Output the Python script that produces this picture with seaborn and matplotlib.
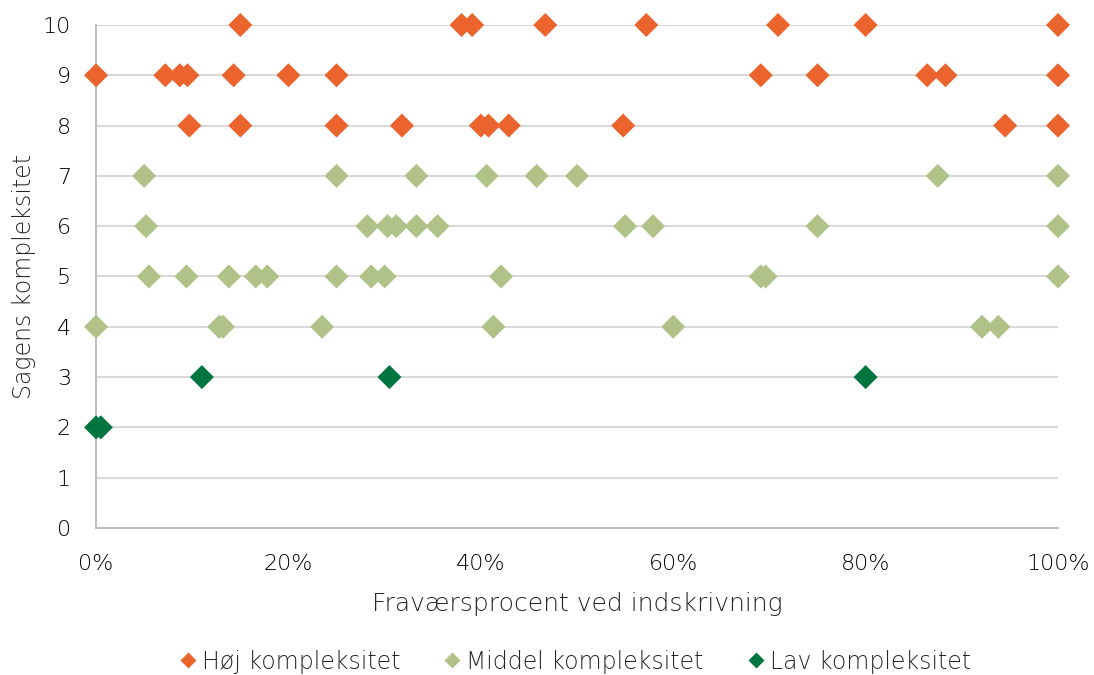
import matplotlib
matplotlib.use("Agg")
import matplotlib.pyplot as plt
import seaborn as sns
import pandas as pd
from matplotlib.lines import Line2D

# ---- data (fraction of absence, complexity) ----
hoj_x = [0.15, 0.380, 0.391, 0.467, 0.572, 0.709, 0.800, 1.00,
         0.0, 0.072, 0.087, 0.095, 0.143, 0.200, 0.250, 0.691, 0.750, 0.864, 0.883, 1.00,
         0.097, 0.150, 0.250, 0.318, 0.400, 0.408, 0.429, 0.548, 0.945, 1.00]
hoj_y = [10, 10, 10, 10, 10, 10, 10, 10,
         9, 9, 9, 9, 9, 9, 9, 9, 9, 9, 9, 9,
         8, 8, 8, 8, 8, 8, 8, 8, 8, 8]

mid_x = [0.050, 0.250, 0.333, 0.406, 0.458, 0.500, 0.875, 1.00,
         0.052, 0.282, 0.303, 0.312, 0.333, 0.355, 0.550, 0.579, 0.750, 1.00,
         0.055, 0.094, 0.138, 0.166, 0.178, 0.250, 0.286, 0.300, 0.421, 0.691, 0.696, 1.00,
         0.0, 0.128, 0.132, 0.235, 0.413, 0.600, 0.921, 0.938]
mid_y = [7, 7, 7, 7, 7, 7, 7, 7,
         6, 6, 6, 6, 6, 6, 6, 6, 6, 6,
         5, 5, 5, 5, 5, 5, 5, 5, 5, 5, 5, 5,
         4, 4, 4, 4, 4, 4, 4, 4]

lav_x = [0.110, 0.305, 0.800, 0.0, 0.005]
lav_y = [3, 3, 3, 2, 2]

labels = ["Høj kompleksitet", "Middel kompleksitet", "Lav kompleksitet"]
colors = ["#EB642D", "#B1C289", "#00753F"]
x_ticks = [0, 0.2, 0.4, 0.6, 0.8, 1.0]
x_ticklabels = ["0%", "20%", "40%", "60%", "80%", "100%"]
y_ticks = list(range(0, 11))

df = pd.DataFrame({
    "x": hoj_x + mid_x + lav_x,
    "y": hoj_y + mid_y + lav_y,
    "grp": [labels[0]] * len(hoj_x) + [labels[1]] * len(mid_x) + [labels[2]] * len(lav_x),
})

sns.set_theme(style="white")
plt.rcParams["font.family"] = ["DejaVu Sans"]
plt.rcParams["font.weight"] = "light"
plt.rcParams["axes.labelweight"] = "light"

fig = plt.figure(figsize=(10.94, 6.75), dpi=100)
ax = fig.add_axes([0.0878, 0.2178, 0.8793, 0.7452])

ax.set_axisbelow(True)
for yv in y_ticks[1:]:
    ax.axhline(yv, color="#D9D9D9", lw=1.5, zorder=0)

sns.scatterplot(data=df, x="x", y="y", hue="grp", hue_order=labels,
                palette=dict(zip(labels, colors)), marker="D", s=150,
                edgecolor="none", linewidth=0, ax=ax, legend=False, clip_on=False, zorder=3)

ax.set_xlim(0, 1)
ax.set_ylim(0, 10)
ax.set_xticks(x_ticks)
ax.set_xticklabels(x_ticklabels)
ax.set_yticks(y_ticks)
ax.tick_params(axis="both", length=0, labelsize=16, colors="#000000")
ax.tick_params(axis="x", pad=19)
ax.tick_params(axis="y", pad=18)

for s in ["top", "right"]:
    ax.spines[s].set_visible(False)
for s in ["left", "bottom"]:
    ax.spines[s].set_color("#BFBFBF")
    ax.spines[s].set_linewidth(1.5)

ax.set_xlabel("Fraværsprocent ved indskrivning", fontsize=18, labelpad=13)
ax.set_ylabel("Sagens kompleksitet", fontsize=17, labelpad=5)

handles = [Line2D([0], [0], marker="D", color="none", markerfacecolor=c,
                  markeredgecolor="none", markersize=8) for c in colors]
fig.legend(handles, labels, loc="center", bbox_to_anchor=(0.523, 0.02), ncol=3,
           frameon=False, fontsize=17, handletextpad=0.0, columnspacing=1.6,
           handlelength=1.2)

fig.savefig("out.png", dpi=100)
